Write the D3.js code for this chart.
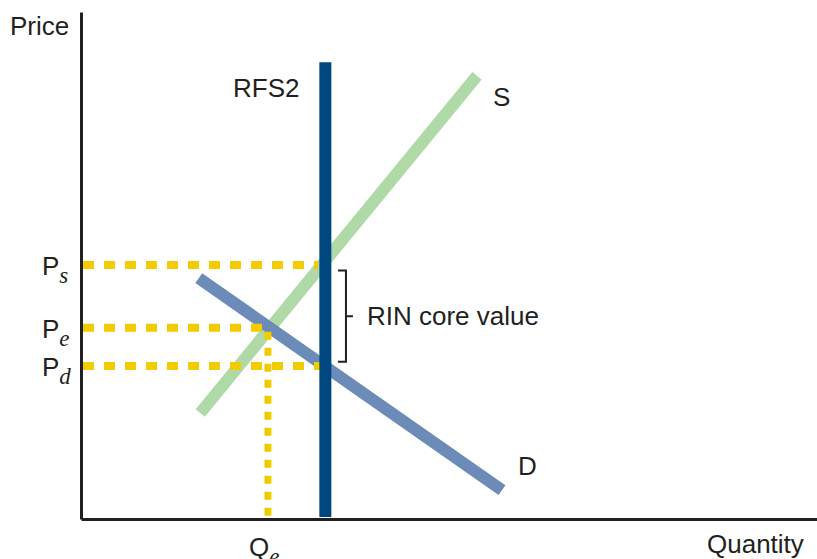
<!DOCTYPE html>
<html>
<head>
<meta charset="utf-8">
<script src="https://cdn.jsdelivr.net/npm/d3@7"></script>
<style>
  body { margin: 0; background: #fff; }
  text { font-family: "Liberation Sans", Arial, sans-serif; fill: #231f20; }
  .sub { font-family: "Liberation Serif", "Times New Roman", serif; font-style: italic; }
</style>
</head>
<body>
<div id="chart"></div>
<script>
// Data (quantity / price in abstract units, 0-100)
var supplyLine = [{q: 16.2, p: 20.9}, {q: 53.8, p: 87.4}];
var demandLine = [{q: 16.0, p: 47.5}, {q: 57.2, p: 5.7}];
var rfs2Line = [{q: 33.2, p: 0.4}, {q: 33.2, p: 90.1}];
var priceLevels = [
  {name: "s", p: 50.1, qEnd: 32.2},
  {name: "e", p: 37.7, qEnd: 25.4},
  {name: "d", p: 30.2, qEnd: 32.5}
];
var qEquilibrium = 25.4;
var bracketRange = [31.0, 49.0];
var bracketQ = 36.0;

var svgWidth = 817;
var svgHeight = 559;

var svg = d3.select("#chart")
  .append("svg")
  .attr("width", svgWidth)
  .attr("height", svgHeight);

var xScale = d3.scaleLinear().domain([0, 100]).range([81, 817]);
var yScale = d3.scaleLinear().domain([0, 100]).range([519, 12]);

var line = d3.line()
  .x(d => xScale(d.q))
  .y(d => yScale(d.p));

// Axes (no ticks)
svg.append("g")
  .attr("transform", `translate(0, ${yScale(0)})`)
  .call(d3.axisBottom(xScale).ticks(0).tickSize(0))
  .call(g => g.select(".domain").attr("stroke", "#231f20").attr("stroke-width", 3));

svg.append("g")
  .attr("transform", `translate(${xScale(0)}, 0)`)
  .call(d3.axisLeft(yScale).ticks(0).tickSize(0))
  .call(g => g.select(".domain").attr("stroke", "#231f20").attr("stroke-width", 3));

// Supply
svg.append("path")
  .datum(supplyLine)
  .attr("d", line)
  .attr("fill", "none")
  .attr("stroke", "#b0d9a8")
  .attr("stroke-width", 12);

// Demand
svg.append("path")
  .datum(demandLine)
  .attr("d", line)
  .attr("fill", "none")
  .attr("stroke", "#6c8bb8")
  .attr("stroke-width", 12);

// Yellow dashed price lines
svg.selectAll(".pline")
  .data(priceLevels)
  .enter()
  .append("line")
  .attr("class", "pline")
  .attr("x1", xScale(0) + 2)
  .attr("x2", d => xScale(d.qEnd))
  .attr("y1", d => yScale(d.p))
  .attr("y2", d => yScale(d.p))
  .attr("stroke", "#f2cb00")
  .attr("stroke-width", 8)
  .attr("stroke-dasharray", "11,10");

// Qe dotted line
svg.append("line")
  .attr("x1", xScale(qEquilibrium))
  .attr("x2", xScale(qEquilibrium))
  .attr("y1", yScale(37.7) + 4)
  .attr("y2", yScale(0) - 2)
  .attr("stroke", "#f2cb00")
  .attr("stroke-width", 7)
  .attr("stroke-dasharray", "8,8");

// RFS2 vertical
svg.append("path")
  .datum(rfs2Line)
  .attr("d", line)
  .attr("fill", "none")
  .attr("stroke", "#00477f")
  .attr("stroke-width", 12);

// Bracket
var bx = xScale(bracketQ);
var bTop = yScale(bracketRange[1]);
var bBot = yScale(bracketRange[0]);
var bMid = (bTop + bBot) / 2;
svg.append("path")
  .attr("d", `M${bx - 8},${bTop} H${bx} V${bBot} H${bx - 8} M${bx},${bMid} H${bx + 7}`)
  .attr("fill", "none")
  .attr("stroke", "#231f20")
  .attr("stroke-width", 2);

// Labels
var fs = 26;
svg.append("text").attr("x", 10).attr("y", 35).attr("font-size", fs).text("Price");
svg.append("text").attr("x", 707).attr("y", 553).attr("font-size", fs).text("Quantity");
svg.append("text").attr("x", 233).attr("y", 97).attr("font-size", fs).text("RFS2");
svg.append("text").attr("x", 493).attr("y", 106).attr("font-size", fs).text("S");
svg.append("text").attr("x", 518).attr("y", 475).attr("font-size", fs).text("D");
svg.append("text").attr("x", 367).attr("y", 325).attr("font-size", fs).text("RIN core value");

// P labels with italic subscripts
priceLevels.forEach(function(d) {
  var t = svg.append("text")
    .attr("x", 42)
    .attr("y", yScale(d.p) + 10)
    .attr("font-size", fs);
  t.append("tspan").text("P");
  t.append("tspan").attr("class", "sub").attr("dy", 8).attr("font-size", 23).text(d.name);
});

// Qe label
var qt = svg.append("text")
  .attr("x", 249)
  .attr("y", 556)
  .attr("font-size", fs);
qt.append("tspan").text("Q");
qt.append("tspan").attr("class", "sub").attr("dy", 8).attr("font-size", 23).text("e");
</script>
</body>
</html>
